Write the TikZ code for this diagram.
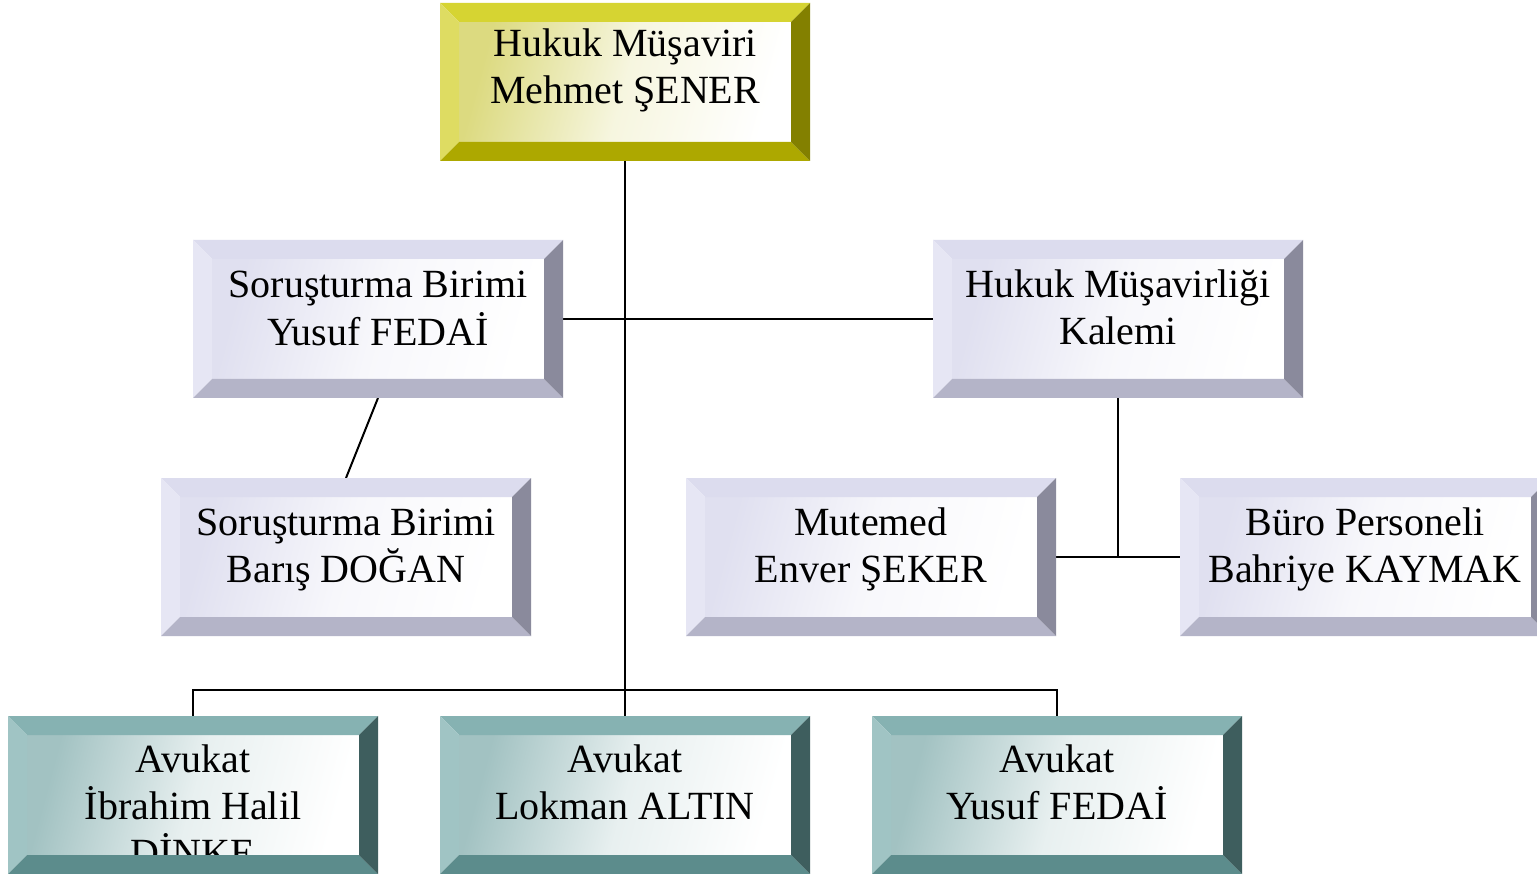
\documentclass[tikz,border=0pt]{standalone}
\usepackage{fontspec}
\setmainfont{Liberation Serif}
\usetikzlibrary{calc}
\definecolor{yeltop}{HTML}{D6D432}
\definecolor{yelleft}{HTML}{DEDC62}
\definecolor{yelbot}{HTML}{ADA800}
\definecolor{yelright}{HTML}{838000}
\definecolor{yelin}{HTML}{DCDA80}
\definecolor{lavtop}{HTML}{DCDCEE}
\definecolor{lavleft}{HTML}{E6E6F4}
\definecolor{lavbot}{HTML}{B4B4C8}
\definecolor{lavright}{HTML}{8A8A9C}
\definecolor{lavin}{HTML}{E0E0F0}
\definecolor{teatop}{HTML}{86B2B2}
\definecolor{tealeft}{HTML}{A0C4C4}
\definecolor{teabot}{HTML}{5C8C8C}
\definecolor{tearight}{HTML}{3E5E5E}
\definecolor{teain}{HTML}{A2C2C2}
\tikzset{
  boxshape/.style={minimum width=370pt, minimum height=158pt, inner sep=0pt, outer sep=0pt},
  txt/.style={inner sep=0pt, font=\fontsize{40}{47}\selectfont},
  conn/.style={line width=2pt, black}
}
\newcommand{\bevbox}[6]{%
  \node[boxshape] (#1) at (#2,#3) {};
  \shade[left color=#4in, right color=white, middle color=white!75!#4in, shading angle=75] ($(#1.north west)+(19,19)$) rectangle ($(#1.south east)+(-19,-19)$);
  \node[txt, anchor=base] (#1-t) at ($(#1.north)+(0,#6)$) {\begin{tabular}[t]{@{}c@{}}#5\end{tabular}};
  \fill[#4top] (#1.north west) -- (#1.north east) -- ++(-19,19) -- ($(#1.north west)+(19,19)$) -- cycle;
  \fill[#4left] (#1.north west) -- ($(#1.north west)+(19,19)$) -- ($(#1.south west)+(19,-19)$) -- (#1.south west) -- cycle;
  \fill[#4bot] (#1.south west) -- ($(#1.south west)+(19,-19)$) -- ($(#1.south east)+(-19,-19)$) -- (#1.south east) -- cycle;
  \fill[#4right] (#1.north east) -- ($(#1.north east)+(-19,19)$) -- ($(#1.south east)+(-19,-19)$) -- (#1.south east) -- cycle;
}
\begin{document}
\begin{tikzpicture}[x=1pt,y=-1pt]
\useasboundingbox[fill=white] (0,0) rectangle (1537,874);
% placeholders for connectors
\node[boxshape] (hm) at (625,82) {};
\node[boxshape] (sy) at (378,319) {};
\node[boxshape] (hk) at (1118,319) {};
\node[boxshape] (sb) at (346,557) {};
\node[boxshape] (mu) at (871,557) {};
\node[boxshape] (bp) at (1365,557) {};
\node[boxshape] (a1) at (193,795) {};
\node[boxshape] (a2) at (625,795) {};
\node[boxshape] (a3) at (1057,795) {};
% connectors
\draw[conn] (hm.south) -- (a2.north);
\draw[conn] (sy.east) -- (hk.west);
\draw[conn] (sy.south) -- (sb.north);
\coordinate (j1) at (hk.south |- mu.east);
\draw[conn] (hk.south) -- (j1);
\draw[conn] (mu.east) -- (bp.west);
\coordinate (busL) at ($(a1.north)+(0,-26)$);
\draw[conn] (a1.north) -- (busL) -| (a3.north);
% boxes
\bevbox{hmb}{625}{82}{yel}{Hukuk Müşaviri\\Mehmet ŞENER}{54}
\bevbox{syb}{378}{319}{lav}{Soruşturma Birimi\\Yusuf FEDAİ}{58}
\bevbox{hkb}{1118}{319}{lav}{Hukuk Müşavirliği\\Kalemi}{58}
\bevbox{sbb}{346}{557}{lav}{Soruşturma Birimi\\Barış DOĞAN}{57}
\bevbox{mub}{871}{557}{lav}{Mutemed\\Enver ŞEKER}{57}
\bevbox{bpb}{1365}{557}{lav}{Büro Personeli\\Bahriye KAYMAK}{57}
\bevbox{a1b}{193}{795}{tea}{Avukat\\İbrahim Halil\\DİNKE}{56}
\bevbox{a2b}{625}{795}{tea}{Avukat\\Lokman ALTIN}{56}
\bevbox{a3b}{1057}{795}{tea}{Avukat\\Yusuf FEDAİ}{56}
\end{tikzpicture}
\end{document}
